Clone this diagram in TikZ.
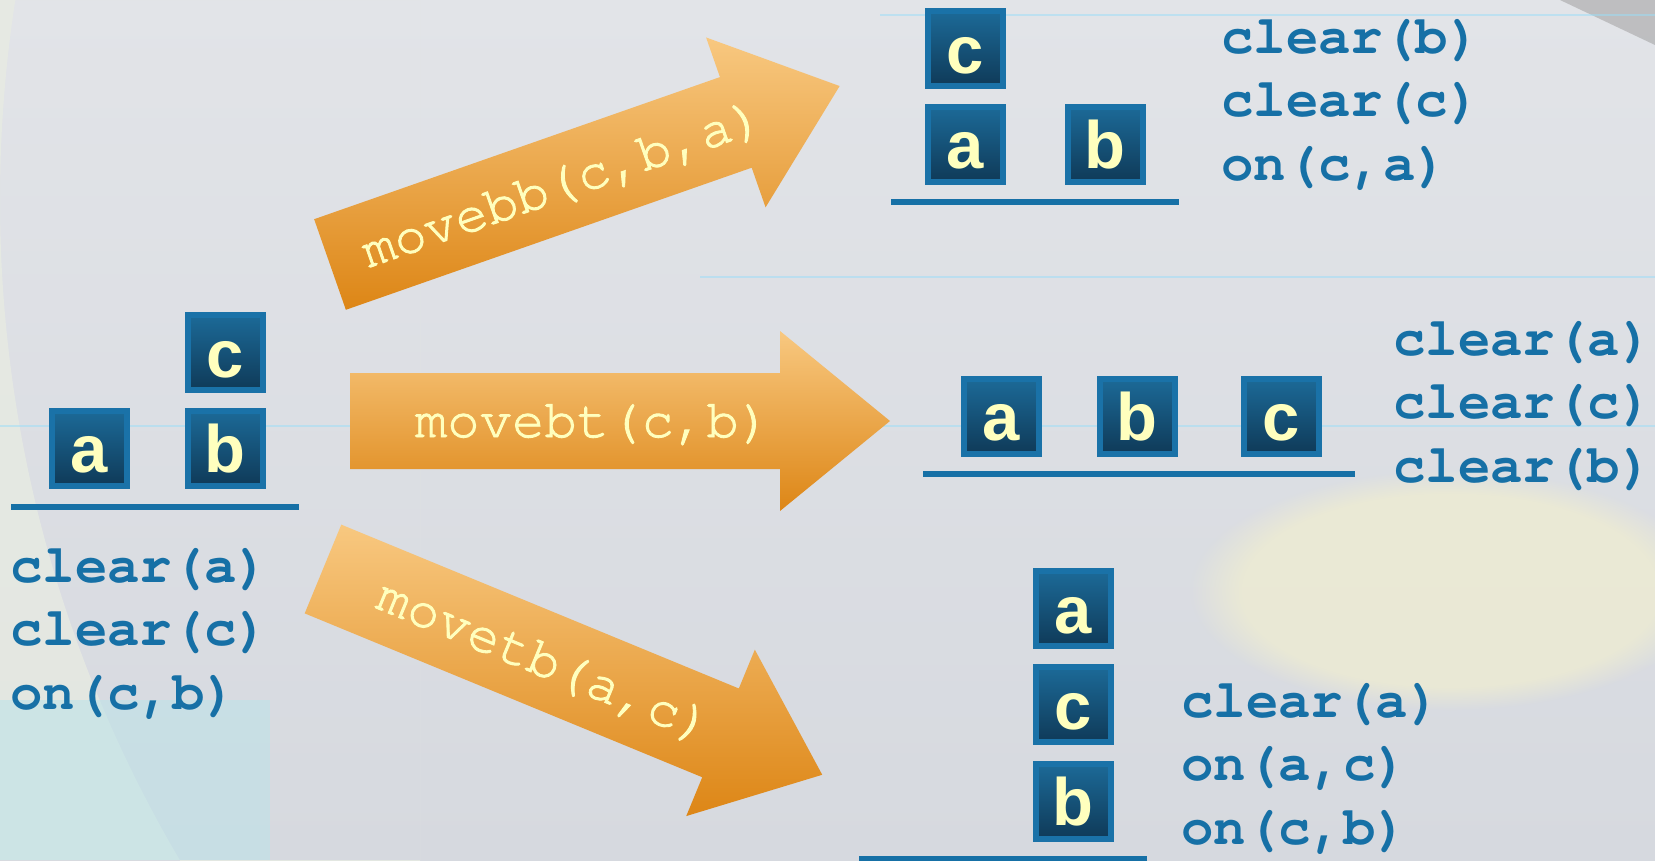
\documentclass[tikz,border=0pt]{standalone}
\usepackage{fontspec}
\setmainfont{Liberation Sans}
\setmonofont{texgyrecursor}[Extension=.otf,UprightFont=*-regular,BoldFont=*-bold]
\newfontfamily\blockfont{Liberation Sans}
\newfontfamily\labelfont{texgyrecursor}[Extension=.otf,UprightFont=*-regular,FakeBold=1.6]
\usetikzlibrary{positioning,fadings}

\definecolor{factblue}{RGB}{22,112,166}
\definecolor{blockedge}{RGB}{26,114,168}
\definecolor{blocktop}{RGB}{28,106,152}
\definecolor{blockbot}{RGB}{15,58,88}
\definecolor{letter}{RGB}{255,255,190}
\definecolor{arrowtop}{RGB}{248,200,128}
\definecolor{arrowbot}{RGB}{221,134,22}
\definecolor{bgtop}{RGB}{226,228,232}
\definecolor{bgmid}{RGB}{203,206,219}
\definecolor{bgbot}{RGB}{214,217,223}
\definecolor{bglight}{RGB}{232,236,226}
\definecolor{bgcyan}{RGB}{190,226,232}
\definecolor{bgcream}{RGB}{238,236,210}

\tikzset{
    block/.style={draw=blockedge,line width=6pt,top color=blocktop,bottom color=blockbot,
        minimum size=75pt,inner sep=0pt,text=letter,
        font=\blockfont\bfseries\fontsize{67}{67}\selectfont,text height=49pt,text depth=0pt},
    floor/.style={draw=factblue,line width=6pt},
    fact/.style={anchor=base west,inner sep=0pt,text=factblue,
        font=\ttfamily\bfseries\fontsize{54}{64}\selectfont},
    move arrow/.style={top color=arrowtop,bottom color=arrowbot},
    move label/.style={anchor=base,inner sep=0pt,text=letter,
        font=\labelfont\fontsize{54}{54}\selectfont}
}

\begin{document}
\begin{tikzpicture}[x=1pt,y=-1pt]
    \useasboundingbox (0,0) rectangle (1655,860);
    % background
    \shade[top color=bgtop,middle color=bgmid,bottom color=bgbot] (0,0) rectangle (1655,860);
    \begin{scope}
        \clip (0,0) rectangle (420,860);
        \fill[bglight,opacity=0.75,even odd rule] (0,0) rectangle (420,860) (1300,200) circle (1300);
    \end{scope}
    \fill[bgcyan,opacity=0.6] (0,700) rectangle (270,860);
    \fill[bgcream,opacity=0.8,path fading=circle with fuzzy edge 20 percent] (1450,590) ellipse (260 and 120);
    \fill[gray!70,opacity=0.6] (1560,0) -- (1655,0) -- (1655,45) -- cycle;
    \draw[cyan!40,line width=2pt,opacity=0.5] (880,15) -- (1655,15);
    \draw[cyan!40,line width=2pt,opacity=0.5] (700,277) -- (1655,277);
    \draw[cyan!40,line width=2pt,opacity=0.5] (0,426) -- (350,426) (880,426) -- (1655,426);

    % start state
    \node[block] (la) at (89.5,448) {a};
    \node[block] (lb) at (225,448) {b};
    \node[block] (lc) at (225,352.5) {c};
    \draw[floor] (11,507) -- (299,507);
    \foreach \f [count=\i from 0] in {clear(a),clear(c),{on(c,b)}}
        \node[fact] (lf\i) at (10,{582+63.5*\i}) {\f};

    % movebb
    \begin{scope}[shift={(330,264.5)},rotate=19.3]
        \shade[move arrow] (0,-48) -- (430,-48) -- (430,-90) -- (540,0) -- (430,90) -- (430,48) -- (0,48) -- cycle;
        \node[move label,rotate=19.3] (mbb) at (246,16) {movebb(c,b,a)};
    \end{scope}
    \node[block] (ta) at (965.5,144) {a};
    \node[block] (tb) at (1105,144) {b};
    \node[block] (tc) at (965.5,48.5) {c};
    \draw[floor] (891,202) -- (1179,202);
    \foreach \f [count=\i from 0] in {clear(b),clear(c),{on(c,a)}}
        \node[fact] (tf\i) at (1221,{53+63.5*\i}) {\f};

    % movebt
    \begin{scope}[shift={(350,421)}]
        \shade[move arrow] (0,-48) -- (430,-48) -- (430,-90) -- (540,0) -- (430,90) -- (430,48) -- (0,48) -- cycle;
        \node[move label] (mbt) at (243,16) {movebt(c,b)};
    \end{scope}
    \node[block] (ma) at (1001.5,416) {a};
    \node[block] (mb) at (1137,416) {b};
    \node[block] (mc) at (1281,416) {c};
    \draw[floor] (923,474) -- (1355,474);
    \foreach \f [count=\i from 0] in {clear(a),clear(c),clear(b)}
        \node[fact] (mf\i) at (1393,{355+63.5*\i}) {\f};

    % movetb
    \begin{scope}[shift={(323,569)},rotate=-22.4]
        \shade[move arrow] (0,-48) -- (430,-48) -- (430,-90) -- (540,0) -- (430,90) -- (430,48) -- (0,48) -- cycle;
        \node[move label,rotate=-22.4] (mtb) at (240,16) {movetb(a,c)};
    \end{scope}
    \node[block] (ba) at (1073,608.5) {a};
    \node[block] (bc) at (1073,704.5) {c};
    \node[block] (bb) at (1073,801) {b};
    \draw[floor] (859,859) -- (1147,859);
    \foreach \f [count=\i from 0] in {clear(a),{on(a,c)},{on(c,b)}}
        \node[fact] (bf\i) at (1181,{717+63.5*\i}) {\f};
\end{tikzpicture}
\end{document}
